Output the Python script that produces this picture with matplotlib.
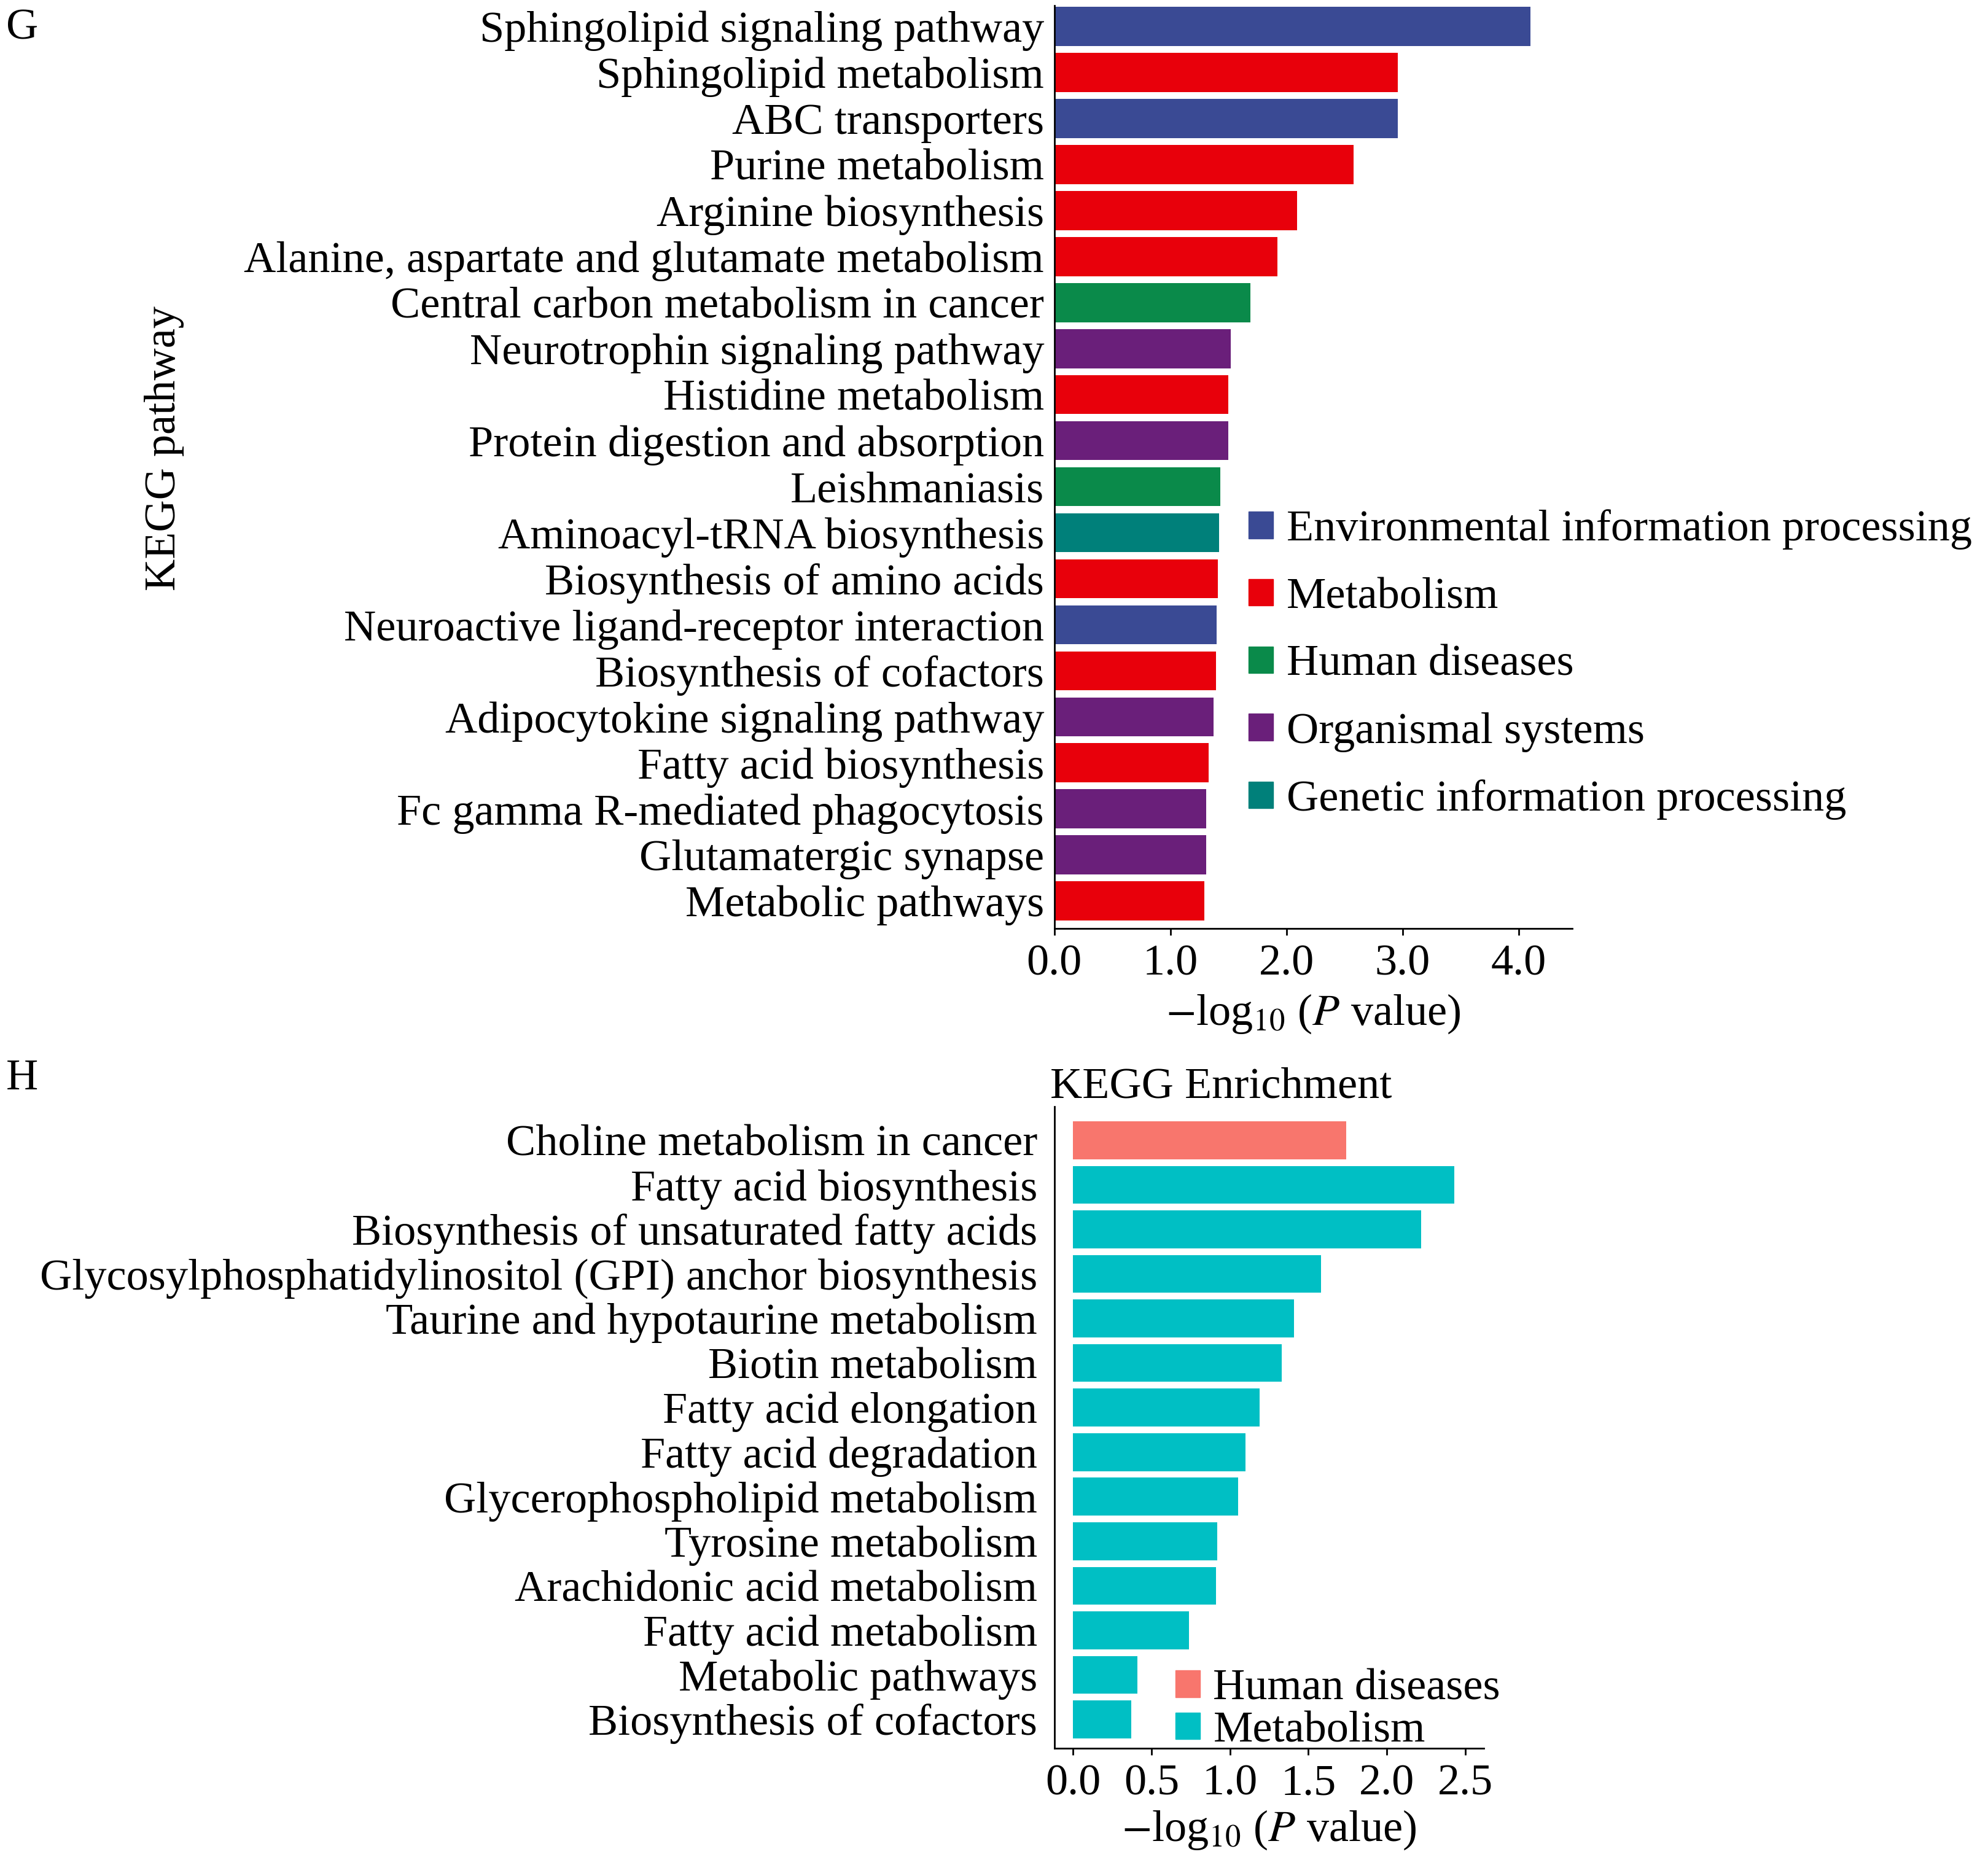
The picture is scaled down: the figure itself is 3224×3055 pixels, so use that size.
import matplotlib
matplotlib.use("Agg")
import matplotlib.pyplot as plt
from matplotlib.patches import Patch

plt.rcParams['font.family'] = ['Liberation Serif', 'DejaVu Serif']
plt.rcParams['mathtext.fontset'] = 'stix'

# Panel G data
g_terms = ["Sphingolipid signaling pathway", "Sphingolipid metabolism", "ABC transporters",
           "Purine metabolism", "Arginine biosynthesis", "Alanine, aspartate and glutamate metabolism",
           "Central carbon metabolism in cancer", "Neurotrophin signaling pathway",
           "Histidine metabolism", "Protein digestion and absorption", "Leishmaniasis",
           "Aminoacyl-tRNA biosynthesis", "Biosynthesis of amino acids",
           "Neuroactive ligand-receptor interaction", "Biosynthesis of cofactors",
           "Adipocytokine signaling pathway", "Fatty acid biosynthesis",
           "Fc gamma R-mediated phagocytosis", "Glutamatergic synapse", "Metabolic pathways"]
g_values = [4.10, 2.96, 2.96, 2.58, 2.09, 1.92, 1.69, 1.52, 1.50, 1.50,
            1.43, 1.42, 1.41, 1.40, 1.39, 1.37, 1.33, 1.31, 1.31, 1.29]
g_class = ["Env", "Met", "Env", "Met", "Met", "Met", "Hum", "Org", "Met", "Org",
           "Hum", "Gen", "Met", "Env", "Met", "Org", "Met", "Org", "Org", "Met"]
g_names = {"Env": "Environmental information processing", "Met": "Metabolism",
           "Hum": "Human diseases", "Org": "Organismal systems",
           "Gen": "Genetic information processing"}
g_colors = {"Env": "#3a4a94", "Met": "#e8000b", "Hum": "#0a8a4a",
            "Org": "#6a1f7a", "Gen": "#00807a"}

# Panel H data
h_terms = ["Choline metabolism in cancer", "Fatty acid biosynthesis",
           "Biosynthesis of unsaturated fatty acids",
           "Glycosylphosphatidylinositol (GPI) anchor biosynthesis",
           "Taurine and hypotaurine metabolism", "Biotin metabolism", "Fatty acid elongation",
           "Fatty acid degradation", "Glycerophospholipid metabolism", "Tyrosine metabolism",
           "Arachidonic acid metabolism", "Fatty acid metabolism", "Metabolic pathways",
           "Biosynthesis of cofactors"]
h_values = [1.74, 2.43, 2.22, 1.58, 1.41, 1.33, 1.19, 1.10, 1.05, 0.92, 0.91, 0.74, 0.41, 0.37]
h_class = ["Human diseases"] + ["Metabolism"] * 13
h_colors = {"Human diseases": "#f8766d", "Metabolism": "#00bfc4"}

fs = 52
xlab = r'$-$log$_{10}$ ($\it{P}$ value)'

fig = plt.figure(figsize=(32.24, 30.55), dpi=100)

# ---- G ----
ax = fig.add_axes([0.5325, 0.505, 0.2615, 0.492])
y = range(len(g_terms))
ax.barh(list(y), g_values, height=0.85, color=[g_colors[c] for c in g_class])
ax.set_ylim(len(g_terms) - 0.4, -0.45)
ax.set_xlim(0, 4.46)
ax.set_yticks(list(y))
ax.set_yticklabels(g_terms, fontsize=fs)
ax.tick_params(axis='y', length=0, pad=12)
ax.set_xticks([0, 1, 2, 3, 4])
ax.set_xticklabels(["0.0", "1.0", "2.0", "3.0", "4.0"], fontsize=fs)
ax.tick_params(axis='x', length=8, width=2, pad=10)
for s in ["top", "right"]:
    ax.spines[s].set_visible(False)
ax.spines["left"].set_linewidth(2)
ax.spines["bottom"].set_linewidth(2)
ax.set_xlabel(xlab, fontsize=fs, labelpad=10)
fig.text(0.083, 0.761, "KEGG pathway", rotation=90, fontsize=fs, ha='center', va='center')
fig.text(0.003, 0.985, "G", fontsize=fs, va='center')
handles = [Patch(color=g_colors[k], label=g_names[k]) for k in ["Env", "Met", "Hum", "Org", "Gen"]]
fig.legend(handles=handles, loc='upper left', bbox_to_anchor=(0.615, 0.745), frameon=False,
           fontsize=fs, handlelength=0.55, handleheight=0.55, handletextpad=0.3,
           labelspacing=0.62, borderpad=0.2)

# ---- H ----
ax2 = fig.add_axes([0.5325, 0.068, 0.217, 0.342])
y2 = range(len(h_terms))
ax2.barh(list(y2), h_values, height=0.85, color=[h_colors[c] for c in h_class])
ax2.set_ylim(len(h_terms) - 0.35, -0.75)
ax2.set_xlim(-0.12, 2.62)
ax2.set_yticks(list(y2))
ax2.set_yticklabels(h_terms, fontsize=fs)
ax2.tick_params(axis='y', length=0, pad=20)
ax2.set_xticks([0, 0.5, 1.0, 1.5, 2.0, 2.5])
ax2.set_xticklabels(["0.0", "0.5", "1.0", "1.5", "2.0", "2.5"], fontsize=fs)
ax2.tick_params(axis='x', length=8, width=2, pad=10)
for s in ["top", "right"]:
    ax2.spines[s].set_visible(False)
ax2.spines["left"].set_linewidth(2)
ax2.spines["bottom"].set_linewidth(2)
ax2.set_xlabel(xlab, fontsize=fs, labelpad=6)
ax2.set_title("KEGG Enrichment", fontsize=fs, loc='left', x=-0.01, pad=4)
fig.text(0.003, 0.425, "H", fontsize=fs, va='center')
h_handles = [Patch(color=h_colors[k], label=k) for k in ["Human diseases", "Metabolism"]]
fig.legend(handles=h_handles, loc='upper left', bbox_to_anchor=(0.578, 0.127), frameon=False,
           fontsize=fs, handlelength=0.55, handleheight=0.55, handletextpad=0.3,
           labelspacing=0.05, borderpad=0.2)

fig.savefig("out.png", dpi=100)
